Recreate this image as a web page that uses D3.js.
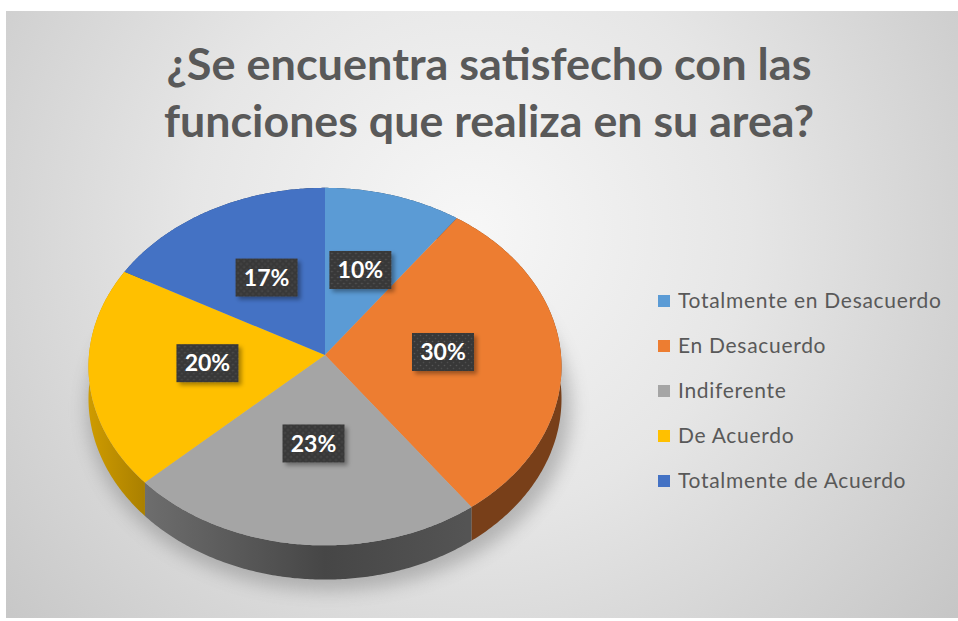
<!DOCTYPE html>
<html>
<head>
<meta charset="utf-8">
<script src="https://d3js.org/d3.v7.min.js"></script>
<style>
  html, body { margin: 0; padding: 0; background: #fff; }
  svg { display: block; }
</style>
</head>
<body>
<script>
"use strict";
/* chart data */
var categories = ["Totalmente en Desacuerdo", "En Desacuerdo", "Indiferente", "De Acuerdo", "Totalmente de Acuerdo"];
var values = [10, 30, 23, 20, 17];
var colors = ["#5B9BD5", "#ED7D31", "#A5A5A5", "#FFC000", "#4472C4"];
var titleLines = ["¿Se encuentra satisfecho con las", "funciones que realiza en su area?"];

var width = 958, height = 621;
/* pie geometry: ellipse radii, thickness and a small perspective factor */
var cx = 325, cy = 355, rx = 236, ry = 178, depth = 32, persp = 0.065;

var svg = d3.select("body").append("svg").attr("width", width).attr("height", height);
var defs = svg.append("defs");

/* background */
var bg = defs.append("radialGradient").attr("id", "bg")
  .attr("gradientUnits", "userSpaceOnUse")
  .attr("cx", 470).attr("cy", 230).attr("r", 620);
bg.append("stop").attr("offset", 0).attr("stop-color", "#f7f7f7");
bg.append("stop").attr("offset", 0.45).attr("stop-color", "#e6e6e6");
bg.append("stop").attr("offset", 1).attr("stop-color", "#c6c6c6");
svg.append("rect").attr("x", 6).attr("y", 11).attr("width", 952).attr("height", 607).attr("fill", "url(#bg)");

/* filters and patterns */
var blur = defs.append("filter").attr("id", "blur").attr("x", "-20%").attr("y", "-20%").attr("width", "140%").attr("height", "140%");
blur.append("feGaussianBlur").attr("stdDeviation", 9);
var sh = defs.append("filter").attr("id", "lblshadow").attr("x", "-30%").attr("y", "-30%").attr("width", "160%").attr("height", "160%");
sh.append("feDropShadow").attr("dx", 3).attr("dy", 3).attr("stdDeviation", 2).attr("flood-color", "#000").attr("flood-opacity", 0.35);
var pat = defs.append("pattern").attr("id", "dots").attr("patternUnits", "userSpaceOnUse").attr("width", 6).attr("height", 6);
pat.append("rect").attr("width", 6).attr("height", 6).attr("fill", "#393939");
pat.append("circle").attr("cx", 1.5).attr("cy", 1.5).attr("r", 0.8).attr("fill", "#565656");
pat.append("circle").attr("cx", 4.5).attr("cy", 4.5).attr("r", 0.8).attr("fill", "#4d4d4d");

/* title */
var title = svg.append("text").attr("text-anchor", "middle")
  .style("font-family", "Lato, 'Open Sans', sans-serif").style("font-weight", 700)
  .style("font-size", "43px").attr("fill", "#595959");
titleLines.forEach(function (t, i) {
  title.append("tspan").attr("x", 489).attr("y", 80 + i * 57)
    .attr("textLength", i === 0 ? 645 : 650).attr("lengthAdjust", "spacingAndGlyphs").text(t);
});

/* pie */
var pie = d3.pie().sort(null).value(function (d) { return d; });
var arcs = pie(values);
function proj(a, r, dz) {
  var u = r * Math.sin(a), v = -r * Math.cos(a), f = 1 / (1 - persp * v);
  return [cx + rx * u * f, cy + (ry * v + (dz || 0)) * f];
}
function edge(a0, a1, r, dz) {
  var n = Math.max(2, Math.ceil((a1 - a0) / 0.01)), pts = [];
  for (var j = 0; j <= n; j++) pts.push(proj(a0 + (a1 - a0) * j / n, r, dz));
  return pts;
}
var line = d3.line();

/* soft shadow under the pie */
svg.append("ellipse").attr("cx", cx + 4).attr("cy", cy + depth + 22).attr("rx", rx + 6).attr("ry", ry + 4)
  .attr("fill", "#777").attr("opacity", 0.45).attr("filter", "url(#blur)");

/* side walls, drawn under the top faces */
var gSide = svg.append("g");
arcs.forEach(function (d, i) {
  var base = d3.color(colors[i]);
  var gr = defs.append("linearGradient").attr("id", "side" + i)
    .attr("gradientUnits", "userSpaceOnUse").attr("x1", cx - rx).attr("x2", cx + rx).attr("y1", 0).attr("y2", 0);
  [[0, 0.6], [0.13, 1.2], [0.5, 2.4], [0.8, 1.9], [1, 1.9]].forEach(function (s) {
    gr.append("stop").attr("offset", s[0]).attr("stop-color", base.darker(s[1]));
  });
  var top = edge(d.startAngle, d.endAngle, 1, 0);
  var bot = edge(d.startAngle, d.endAngle, 1, depth).reverse();
  gSide.append("path").attr("d", line(top.concat(bot)) + "Z").attr("fill", "url(#side" + i + ")");
});

/* top faces */
svg.append("g").selectAll("path").data(arcs).join("path")
  .attr("d", function (d) {
    return line([[cx, cy]].concat(edge(d.startAngle, d.endAngle, 1, 0))) + "Z";
  })
  .attr("fill", function (d, i) { return colors[i]; });

/* data labels */
var total = d3.sum(values);
var fmt = d3.format(".0%");
var lbl = svg.append("g").selectAll("g").data(arcs).join("g")
  .attr("transform", function (d) {
    var p = proj((d.startAngle + d.endAngle) / 2, 0.5, -3);
    return "translate(" + p[0] + "," + p[1] + ")";
  });
lbl.append("rect").attr("x", -31).attr("y", -19).attr("width", 62).attr("height", 38)
  .attr("fill", "url(#dots)").attr("filter", "url(#lblshadow)");
lbl.append("text").attr("text-anchor", "middle").attr("dy", "0.36em")
  .style("font-family", "Lato, 'Open Sans', sans-serif").style("font-weight", 700).style("font-size", "23px")
  .attr("fill", "#fff")
  .text(function (d) { return fmt(d.value / total); });

/* legend */
var y = d3.scalePoint().domain(categories).range([301, 481]);
var leg = svg.append("g").selectAll("g").data(categories).join("g")
  .attr("transform", function (d) { return "translate(658," + y(d) + ")"; });
leg.append("rect").attr("x", 0).attr("y", -6).attr("width", 12).attr("height", 12)
  .attr("fill", function (d, i) { return colors[i]; });
leg.append("text").attr("x", 20).attr("dy", "0.35em")
  .style("font-family", "Lato, 'Open Sans', sans-serif").style("font-size", "21px")
  .style("letter-spacing", "0.7px")
  .attr("fill", "#595959").text(function (d) { return d; });
</script>
</body>
</html>
